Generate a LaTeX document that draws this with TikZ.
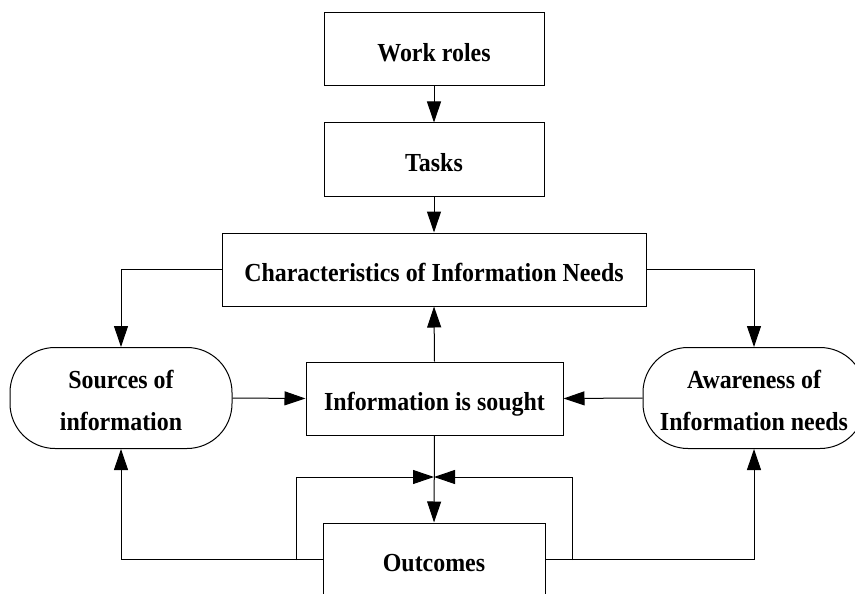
\documentclass[tikz,border=0pt]{standalone}
\usepackage{fontspec}
\setmainfont{Liberation Serif}
\newfontfamily\diafont{Liberation Serif}[FakeStretch=0.92]
\usetikzlibrary{arrows.meta}
\begin{document}
\begin{tikzpicture}[x=1pt,y=-1pt,
  box/.style={draw, line width=1pt, inner sep=0pt, font=\diafont\fontsize{26}{42}\selectfont\bfseries, align=center},
  sbox/.style={box, text height=24pt, text depth=0pt},
  rbox/.style={box, rounded corners=45pt},
  arr/.style={line width=1pt, -{Triangle[length=21pt,width=14pt]}}]
\useasboundingbox (0,0) rectangle (855,594);
\clip (0,0) rectangle (855,594);
\node[sbox, minimum width=220pt, minimum height=73pt] (work) at (434,49.5) {Work roles};
\node[sbox, minimum width=220pt, minimum height=73pt] (tasks) at (434,159.5) {Tasks};
\node[sbox, minimum width=424pt, minimum height=73pt] (char) at (434,269.5) {Characteristics of Information Needs};
\node[rbox, minimum width=222pt, minimum height=101pt] (src) at (121,398) {\rule{0pt}{24pt}Sources of\\information};
\node[rbox, minimum width=222pt, minimum height=101pt] (aw) at (754,398) {\rule{0pt}{24pt}Awareness of\\Information needs};
\node[sbox, minimum width=257pt, minimum height=73pt] (seek) at (434.5,398.5) {Information is sought};
\node[sbox, minimum width=222pt, minimum height=73pt] (out) at (434,559.5) {Outcomes};
\coordinate (J) at (434,477);
\coordinate (lL) at (296,560);
\coordinate (lR) at (572,560);
\draw[arr] (work.south) -- (tasks.north);
\draw[arr] (tasks.south) -- (char.north);
\draw[arr] (char.west) -| (src.north);
\draw[arr] (char.east) -| (aw.north);
\draw[arr] (src.east) -- (seek.west);
\draw[arr] (aw.west) -- (seek.east);
\draw[arr] (seek.north) -- (char.south);
\draw[arr] (seek.south) -- (out.north);
\draw[arr] (out.west) -| (src.south);
\draw[arr] (out.east) -| (aw.south);
\draw[arr] (lL) |- (J);
\draw[arr] (lR) |- (J);
\end{tikzpicture}
\end{document}
